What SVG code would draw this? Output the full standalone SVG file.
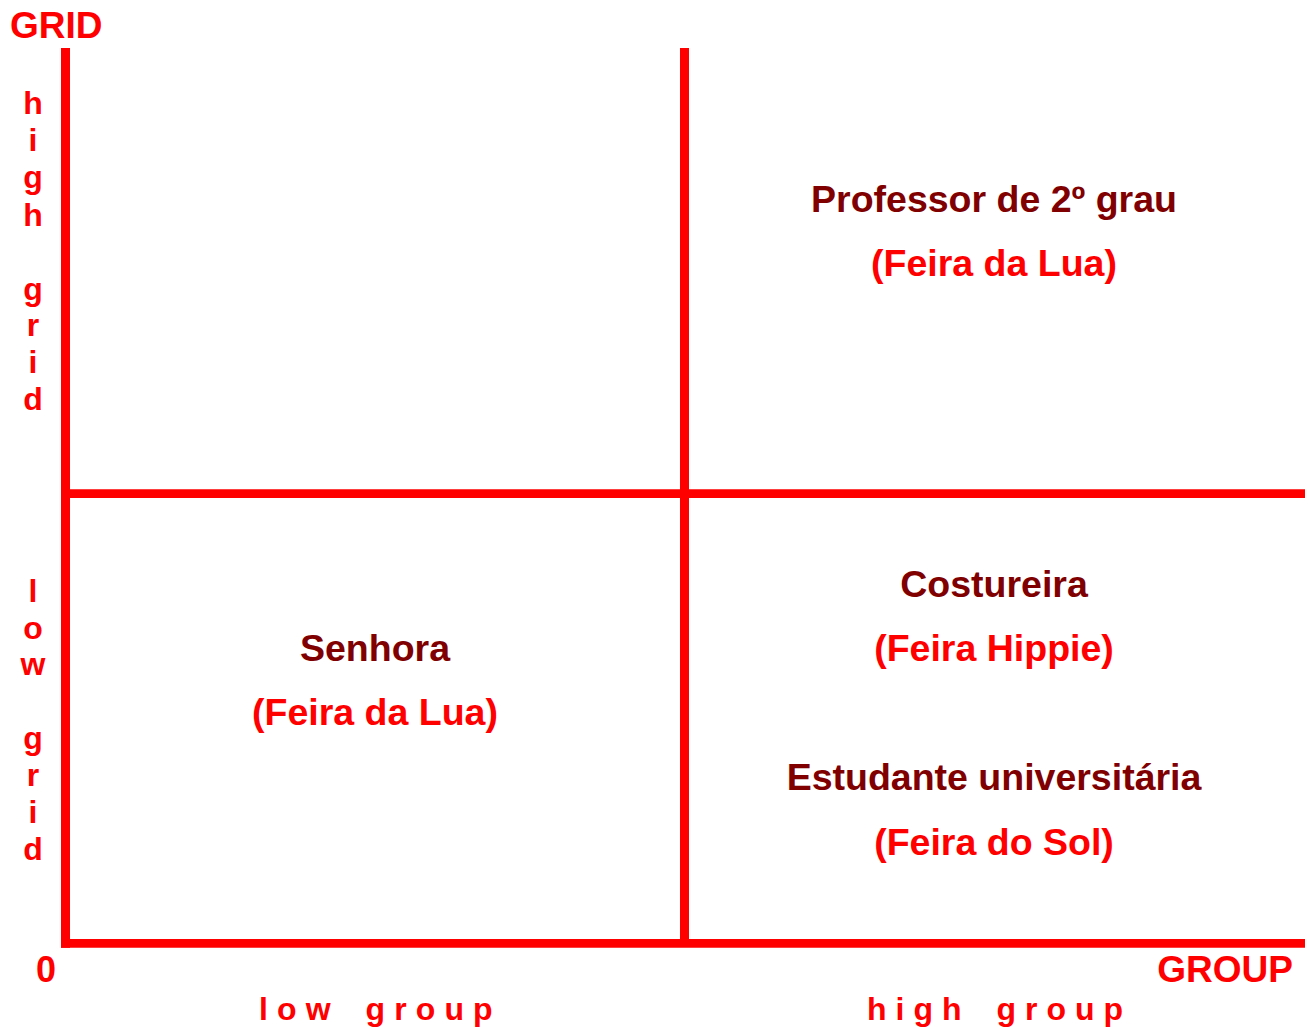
<svg xmlns="http://www.w3.org/2000/svg" width="1308" height="1027" viewBox="0 0 1308 1027">
<style>
text{font-family:"Liberation Sans",Arial,sans-serif;font-weight:bold}
.red{fill:#ff0000}
.dark{fill:#800000}
.t{font-size:37.5px;text-anchor:middle}
.axis{font-size:32px}
.vl{font-size:32px;text-anchor:middle}
.ax{stroke:#ff0000;fill:none}
</style>
<rect width="1308" height="1027" fill="#ffffff"/>
<g id="connectors">
<line class="ax" x1="65.5" y1="48" x2="65.5" y2="947.7" stroke-width="9"/>
<line class="ax" x1="61" y1="943.4" x2="1305" y2="943.4" stroke-width="8.6"/>
<line class="ax" x1="684.5" y1="48" x2="684.5" y2="940" stroke-width="9"/>
<line class="ax" x1="66" y1="493.6" x2="1305" y2="493.6" stroke-width="8.6"/>
</g>
<g id="axis-labels">
<text class="red" x="10" y="38" font-size="37">GRID</text>
<text class="red" x="1293" y="982" font-size="37" text-anchor="end">GROUP</text>
<text class="red" x="36" y="982" font-size="36">0</text>
<text class="red axis" x="259" y="1020" letter-spacing="9.1" word-spacing="8">low group</text>
<text class="red axis" x="867" y="1020" letter-spacing="9" word-spacing="8">high group</text>
</g>
<g id="high-grid">
<text class="red vl"><tspan x="33" y="114">h</tspan><tspan x="33" y="151">i</tspan><tspan x="33" y="188">g</tspan><tspan x="33" y="226">h</tspan><tspan x="33" y="300">g</tspan><tspan x="33" y="336">r</tspan><tspan x="33" y="373">i</tspan><tspan x="33" y="410">d</tspan></text>
</g>
<g id="low-grid">
<text class="red vl"><tspan x="33" y="602">l</tspan><tspan x="33" y="639">o</tspan><tspan x="33" y="675">w</tspan><tspan x="33" y="749">g</tspan><tspan x="33" y="786">r</tspan><tspan x="33" y="823">i</tspan><tspan x="33" y="860">d</tspan></text>
</g>
<g id="node-professor">
<text class="dark t" x="994" y="212">Professor de 2º grau</text>
<text class="red t" x="994" y="276">(Feira da Lua)</text>
</g>
<g id="node-senhora">
<text class="dark t" x="375" y="661">Senhora</text>
<text class="red t" x="375" y="725">(Feira da Lua)</text>
</g>
<g id="node-costureira">
<text class="dark t" x="994" y="597">Costureira</text>
<text class="red t" x="994" y="661">(Feira Hippie)</text>
</g>
<g id="node-estudante">
<text class="dark t" x="994" y="790">Estudante universitária</text>
<text class="red t" x="994" y="855">(Feira do Sol)</text>
</g>
</svg>
